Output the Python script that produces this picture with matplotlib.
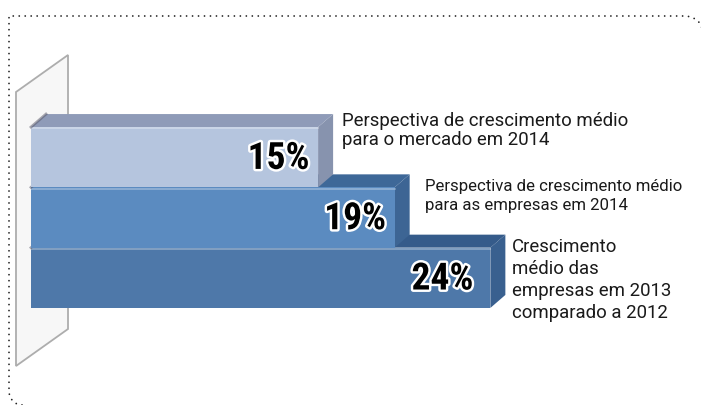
import matplotlib
matplotlib.use("Agg")
import matplotlib.pyplot as plt
import matplotlib.patheffects as pe
from matplotlib import font_manager
from matplotlib.patches import Polygon, Rectangle
from matplotlib.lines import Line2D
import numpy as np

# data
values = [15, 19, 24]
value_labels = ["15%", "19%", "24%"]
descriptions = [
    "Perspectiva de crescimento médio\npara o mercado em 2014",
    "Perspectiva de crescimento médio\npara as empresas em 2014",
    "Crescimento\nmédio das\nempresas em 2013\ncomparado a 2012",
]

front_colors = ["#b5c5de", "#5b8bc0", "#4e78a9"]
top_colors = ["#8f9bb8", "#3e6898", "#355b8a"]
side_colors = ["#8793ae", "#3d6594", "#39608f"]


def pick_pct_font():
    # a bold condensed face for the big percentages, best match first
    fonts = font_manager.fontManager.ttflist
    wanted = ["Liberation Sans Narrow", "Roboto Condensed", "Open Sans Condensed",
              "Noto Sans Condensed", "DejaVu Sans Condensed"]
    for name in wanted:
        for f in fonts:
            fn = f.fname.replace("-", "").replace("_", "").lower()
            key = name.replace(" ", "").lower()
            is_bold = f.weight in (700, "bold") or "bold" in fn
            if (f.name == name or key in fn) and is_bold and "italic" not in fn:
                if "dejavu" in key:
                    return font_manager.FontProperties(fname=f.fname, size=23)
                return font_manager.FontProperties(fname=f.fname, size=27)
    for f in fonts:
        if f.name == "Roboto" and f.weight == 700 and f.style == "normal":
            return font_manager.FontProperties(fname=f.fname, size=25)
    return font_manager.FontProperties(family="DejaVu Sans", weight="bold", size=22)


pct_font = pick_pct_font()
installed = {f.name for f in font_manager.fontManager.ttflist}
label_font = "Roboto" if "Roboto" in installed else "Liberation Sans"

W, H = 701, 406
fig = plt.figure(figsize=(W / 100, H / 100), dpi=100)
fig.patch.set_facecolor("white")

# axes in data units: x = percent, y = bar index (top to bottom)
ax = fig.add_axes([0, 0, 1, 1])
px_per_pct = 19.14
px_per_row = 60.3
x0_px, row0_px = 31, 158.2
ax.set_xlim(-x0_px / px_per_pct, (W - x0_px) / px_per_pct)
ax.set_ylim((H - row0_px) / px_per_row, -row0_px / px_per_row)
ax.axis("off")

# decoration layer in pixel coords (y down)
deco = fig.add_axes([0, 0, 1, 1], zorder=-1)
deco.set_xlim(0, W)
deco.set_ylim(H, 0)
deco.axis("off")

# dotted frame
t = np.linspace(0, np.pi / 2, 12)
corner_x = 684 + 18 * np.sin(t)
corner_y = 17 + 14 * (1 - np.cos(t))
bl = np.linspace(0, np.pi / 2, 8)[::-1]
frame_x = np.concatenate([[22], 9 + 13 * (1 - np.cos(bl))[1:], [9, 684], corner_x])
frame_y = np.concatenate([[406], 392 + 14 * np.sin(bl)[1:], [17, 17], corner_y])
deco.add_line(Line2D(frame_x, frame_y, color="#222222", lw=1.3,
                     linestyle=(0, (0.01, 3.3)), dash_capstyle="round"))

# back wall
wall = Polygon([(16, 93), (68, 56), (68, 330), (16, 367)], closed=True,
               facecolor="#f7f7f7", edgecolor="#adadad", lw=1.3)
deco.add_patch(wall)

# 3d bars, the upper bar sits in front of the lower bar's top face
dx = 15 / px_per_pct
dy = 13 / px_per_row
pct_pad = [0.45, 0.45, 0.9]
for i, v in enumerate(values):
    z = 10 - 2 * i
    top, bot = i - 0.5, i + 0.5
    ax.add_patch(Polygon([(v, top), (v + dx, top - dy), (v + dx, bot - dy), (v, bot)],
                         closed=True, facecolor=side_colors[i], edgecolor="none", zorder=z))
    ax.add_patch(Polygon([(0, top), (dx, top - dy), (v + dx, top - dy), (v, top)],
                         closed=True, facecolor=top_colors[i], edgecolor="none", zorder=z))
    ax.add_patch(Rectangle((0, top), v, 1.0, facecolor=front_colors[i],
                           edgecolor="none", zorder=z))
    ax.plot([0, v], [top + 0.02, top + 0.02], color="white", alpha=0.35, lw=1.2, zorder=z + 0.5)
    ax.plot([0, dx], [top, top - dy], color="#555566", alpha=0.5, lw=2, zorder=z + 0.5)

    ax.text(v - pct_pad[i], i + 0.02, value_labels[i], ha="right", va="center",
            fontproperties=pct_font, color="black", zorder=20,
            path_effects=[pe.withStroke(linewidth=3.5, foreground="white")])

# descriptions beside the bars (y = baseline of the last line)
desc_y = [-0.219, 0.859, 2.650]
desc_size = [13.4, 12.1, 13.4]
desc_spacing = [1.04, 1.34, 1.29]
desc_pad = [0.45, 0.8, 0.35]
for i, txt in enumerate(descriptions):
    ax.text(values[i] + dx + desc_pad[i], desc_y[i], txt, ha="left", va="baseline",
            family=label_font, fontsize=desc_size[i], color="#1a1a1a",
            linespacing=desc_spacing[i], zorder=20)

fig.savefig("out.png", dpi=100, facecolor="white")
